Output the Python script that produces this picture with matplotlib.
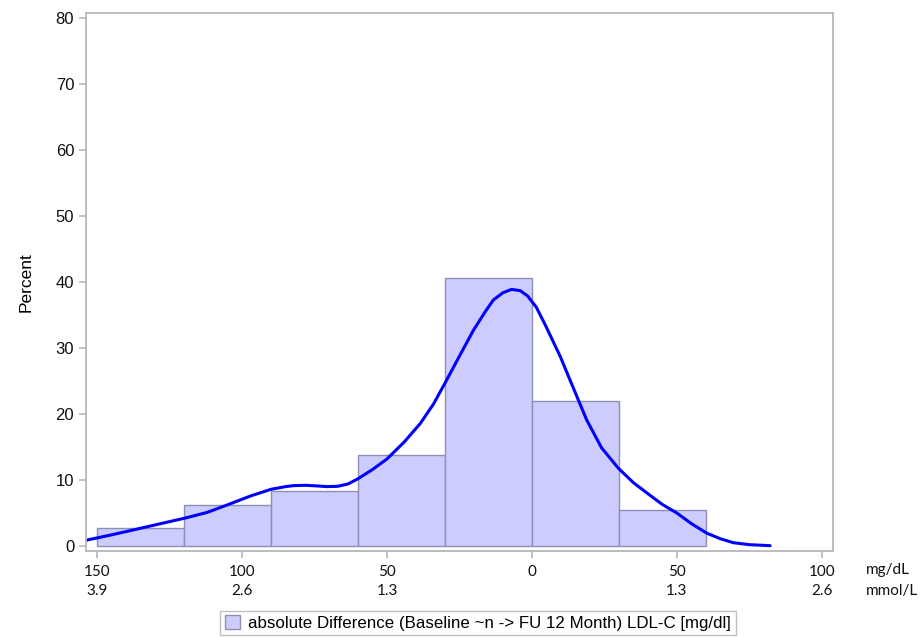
import numpy as np
import matplotlib
matplotlib.use('Agg')
import matplotlib.pyplot as plt

# histogram bins (mg/dL change, negative = reduction)
bin_left = [-150, -120, -90, -60, -30, 0, 30]
bin_width = 30
percent = [2.8, 6.2, 8.3, 13.8, 40.7, 22.0, 5.5]

# kernel density curve
kde_x = [-153.6, -146, -139.9, -130, -120, -112, -105.3, -97, -90, -85, -82.3, -78, -74,
         -70.7, -67, -63.5, -60, -55, -50, -44, -38.5, -34, -30, -25, -20.2, -16, -13.3,
         -10, -7, -4, -1.5, 1.5, 4.5, 9.8, 13.1, 18.9, 24, 29.8, 35, 40.7, 45, 50, 55,
         60.3, 65, 69.5, 75, 82.2]
kde_y = [0.9, 1.6, 2.2, 3.2, 4.2, 5.1, 6.2, 7.6, 8.6, 9.0, 9.15, 9.2, 9.1,
         9.0, 9.05, 9.4, 10.2, 11.6, 13.2, 15.8, 18.6, 21.5, 24.7, 28.8, 32.7, 35.6, 37.3,
         38.4, 38.9, 38.7, 37.9, 36.2, 33.6, 28.7, 25.2, 19.1, 14.9, 11.8, 9.6, 7.7, 6.3, 5.0, 3.4,
         1.95, 1.1, 0.5, 0.2, 0.05]

tick_pos = [-150, -100, -50, 0, 50, 100]
tick_mg = ['150', '100', '50', '0', '50', '100']
tick_mmol = ['3.9', '2.6', '1.3', '', '1.3', '2.6']

axis_col = '#b4b9bd'

fig = plt.figure(figsize=(9.24, 6.37), dpi=100)
ax = fig.add_axes([86 / 924, 1 - 551 / 637, (833 - 86) / 924, (551 - 13) / 637])

ax.bar(bin_left, percent, width=bin_width, align='edge', color='#ccccff',
       edgecolor='#8f8fb3', linewidth=1.0, label='absolute Difference (Baseline ~n -> FU 12 Month) LDL-C [mg/dl]')
ax.plot(kde_x, kde_y, color='#0000ff', linewidth=2.2, solid_capstyle='round',
        solid_joinstyle='round')

ax.set_xlim(-153.9, 103.9)
ax.set_ylim(-0.76, 80.8)
ax.set_yticks(range(0, 81, 10))
ax.tick_params(axis='y', labelsize=12, color=axis_col, length=5, width=1.2,
               labelcolor='#111111')
for lab in ax.get_yticklabels():
    lab.set_family('Liberation Sans')
ax.set_xticks(tick_pos)
ax.set_xticklabels([a + '\n' + b for a, b in zip(tick_mg, tick_mmol)],
                   family='Lato', fontsize=11, linespacing=1.5, color='#111111')
ax.tick_params(axis='x', color=axis_col, length=5, width=1.2, pad=5)
for s in ax.spines.values():
    s.set_color(axis_col)
    s.set_linewidth(1.3)

ax.set_ylabel('Percent', family='Liberation Sans', fontsize=12.5, labelpad=16)

fig.text(866 / 924, 1 - 570 / 637, 'mg/dL', family='Lato', fontsize=11,
         va='center', ha='left', color='#111111')
fig.text(866 / 924, 1 - 591 / 637, 'mmol/L', family='Lato', fontsize=11,
         va='center', ha='left', color='#111111')

leg = fig.legend(loc='center', bbox_to_anchor=(478 / 924, 1 - 623 / 637),
                 prop={'family': 'Liberation Sans', 'size': 12.2}, fancybox=False,
                 handlelength=0.9, handleheight=0.9, handletextpad=0.5,
                 borderpad=0.25, borderaxespad=0)
leg.get_frame().set_edgecolor('#b0b0b0')
leg.get_frame().set_linewidth(1.0)

fig.savefig('out.png', dpi=100)
